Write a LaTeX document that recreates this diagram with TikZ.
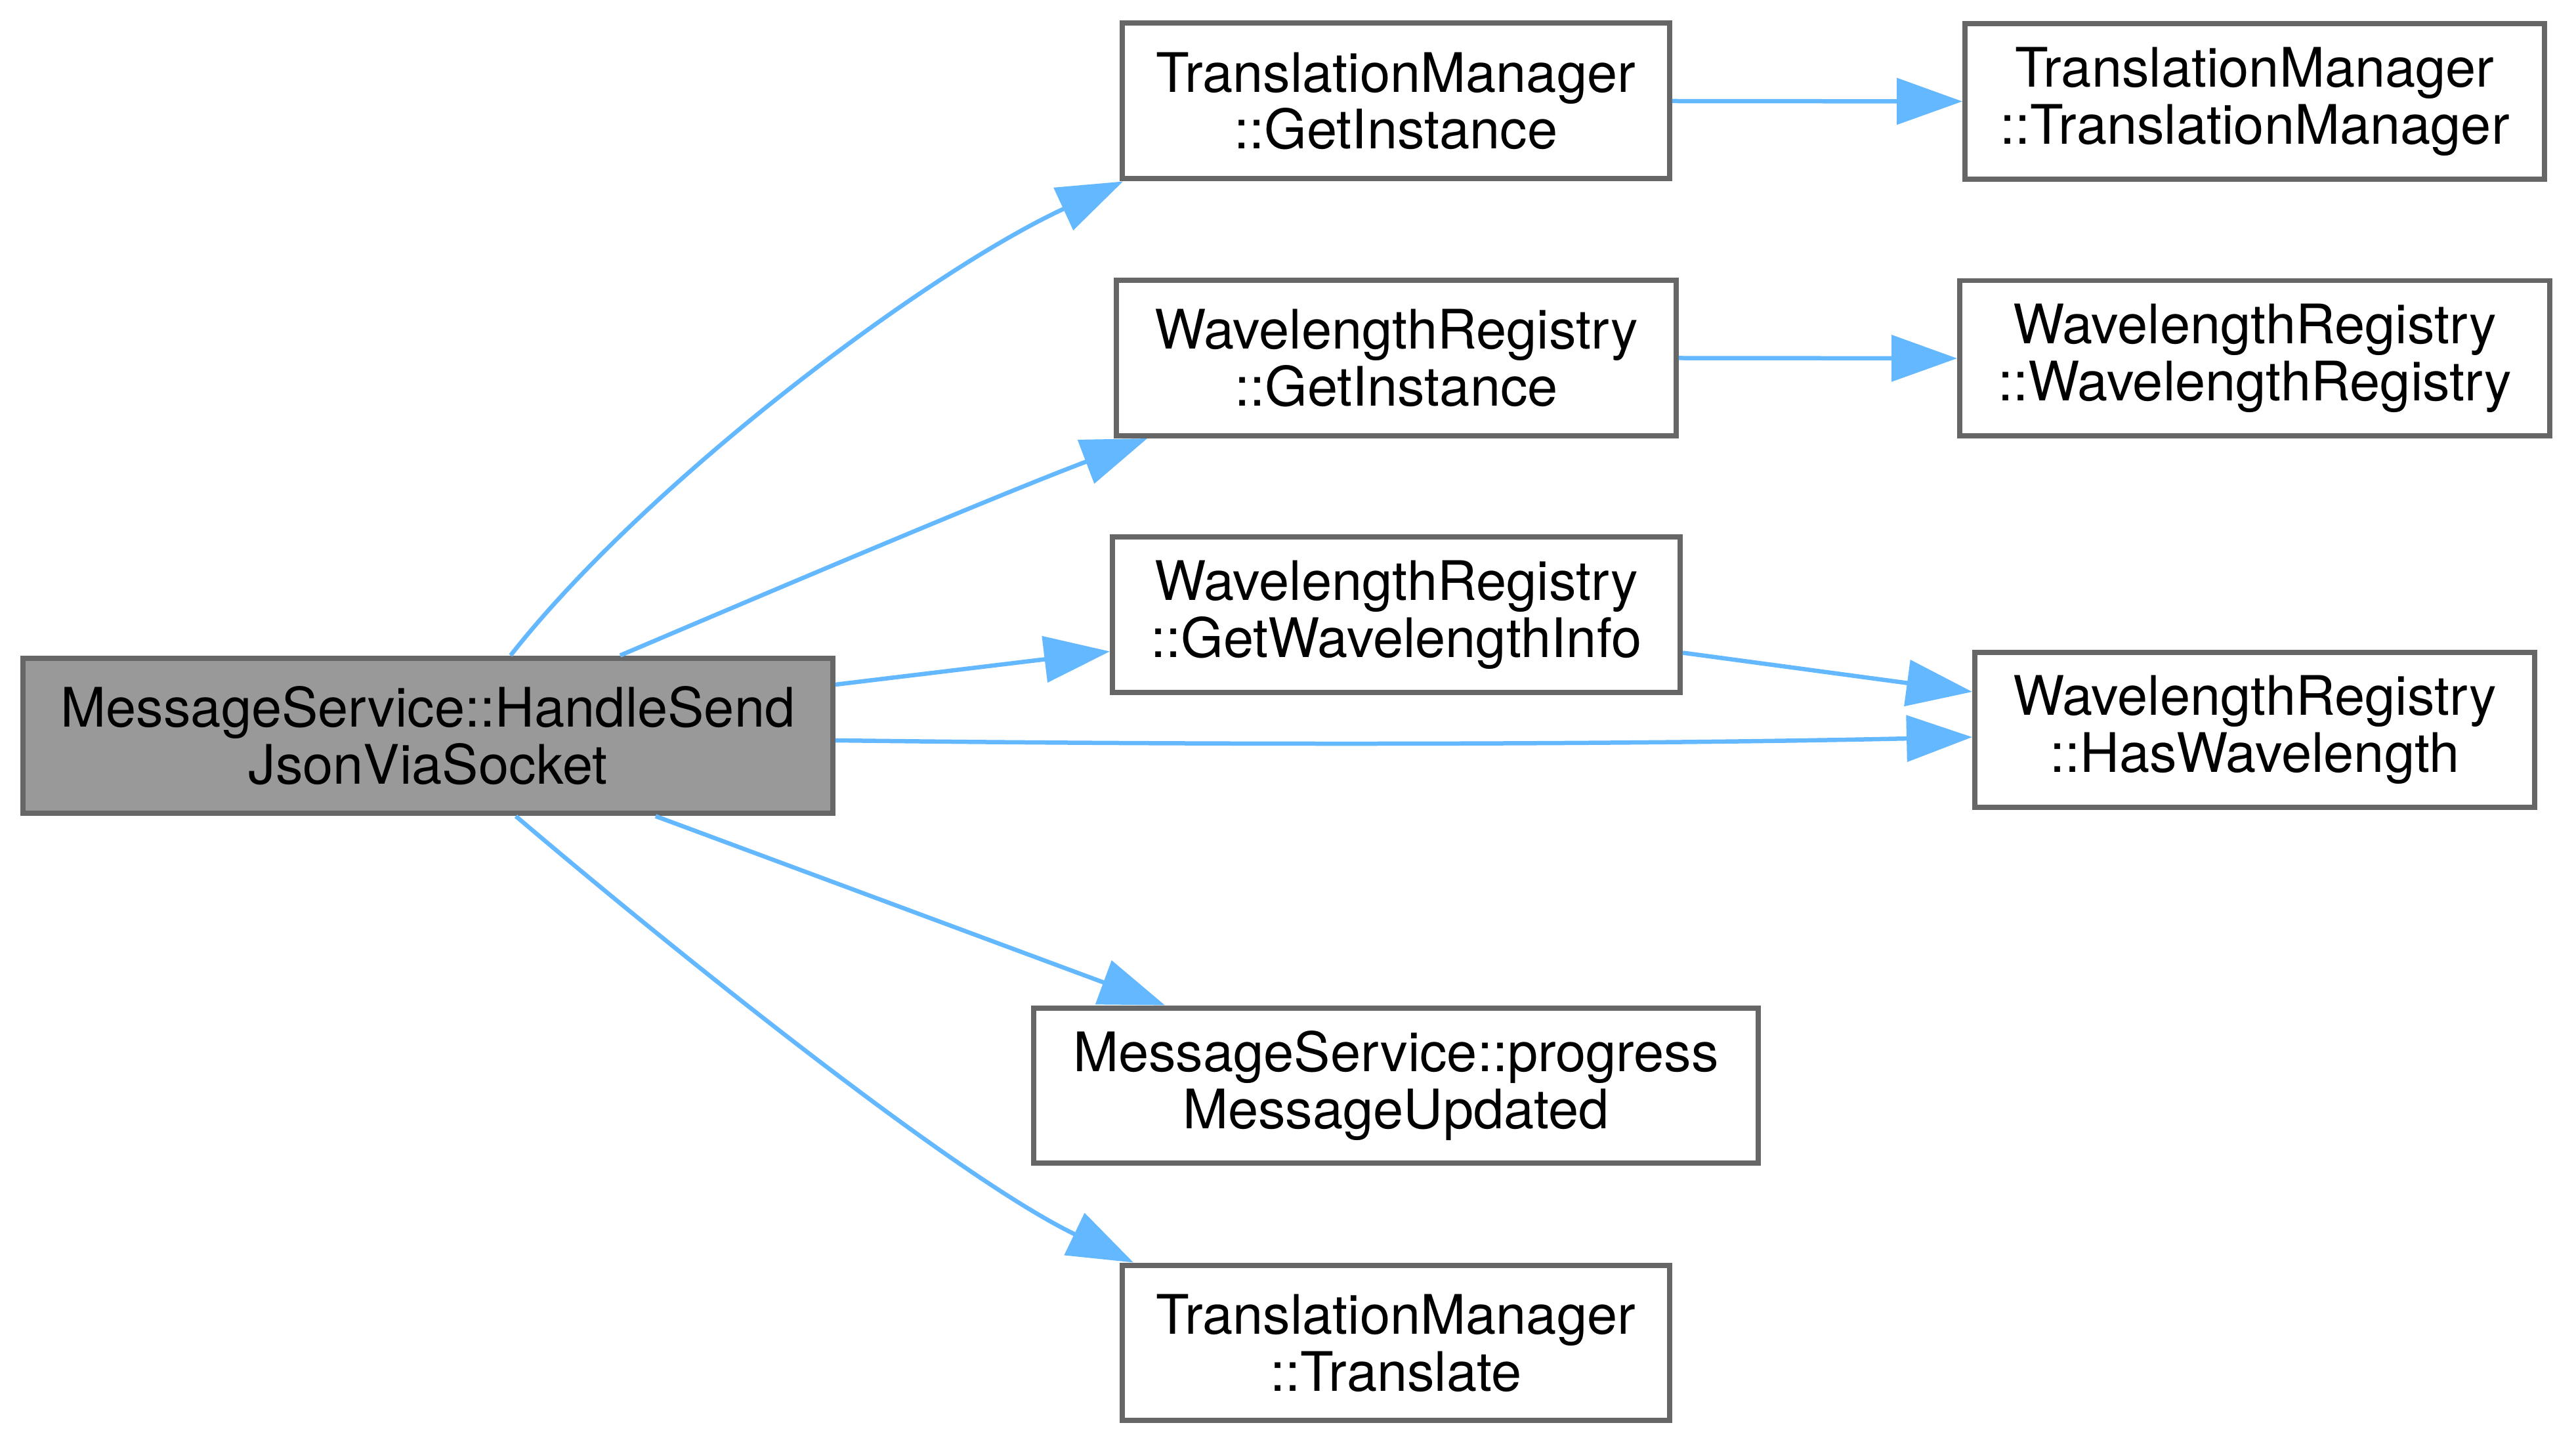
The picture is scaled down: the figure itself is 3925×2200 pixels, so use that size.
\documentclass[tikz,border=0pt]{standalone}
\usepackage{fontspec}
\setmainfont{TeX Gyre Heros}
\usetikzlibrary{arrows.meta}
\definecolor{bordergray}{HTML}{666666}
\definecolor{edgeblue}{HTML}{63B8FF}
\definecolor{mainfill}{HTML}{999999}
\begin{document}
\begin{tikzpicture}[x=0.1pt,y=-0.1pt,
  fn/.style={draw=bordergray, line width=0.8pt, fill=white, inner sep=0pt, align=center,
    font=\fontsize{8.3}{8.7}\selectfont, text=black, minimum height=23.7pt},
  call/.style={draw=edgeblue, line width=0.65pt, -{Triangle[length=10pt,width=7pt]}}]
\useasboundingbox[fill=white] (0,0) rectangle (3925,2200);

\node[fn, fill=mainfill, minimum width=123.4pt] (main) at (652,1121) {MessageService::HandleSend\\JsonViaSocket};
\node[fn, minimum width=83.4pt] (tmgi) at (2127,154) {TranslationManager\\::GetInstance};
\node[fn, minimum width=85.3pt] (wrgi) at (2127.5,545.5) {WavelengthRegistry\\::GetInstance};
\node[fn, minimum width=86.5pt] (gwi) at (2127.5,936.5) {WavelengthRegistry\\::GetWavelengthInfo};
\node[fn, minimum width=110.4pt] (prog) at (2127,1654) {MessageService::progress\\MessageUpdated};
\node[fn, minimum width=83.4pt] (tr) at (2127,2046) {TranslationManager\\::Translate};
\node[fn, minimum width=88.3pt] (tmtm) at (3435.5,154.5) {TranslationManager\\::TranslationManager};
\node[fn, minimum width=89.9pt] (wrwr) at (3435.5,546) {WavelengthRegistry\\::WavelengthRegistry};
\node[fn, minimum width=85.3pt] (haswl) at (3435.5,1112) {WavelengthRegistry\\::HasWavelength};

\draw[call] ([xshift=12.6pt]main.north) .. controls (985,735) and (1411,415) .. ([xshift=0.5pt]tmgi.south west);
\draw[call] ([xshift=29.3pt]main.north) .. controls (1130,920) and (1498,763) .. ([xshift=5.1pt]wrgi.south west);
\draw[call] ([yshift=7.8pt]main.east) -- ([yshift=-5.6pt]gwi.west);
\draw[call] ([yshift=-0.7pt]main.east) .. controls (1900,1136) and (2500,1134) .. ([yshift=-1.1pt]haswl.west);
\draw[call] ([xshift=34.7pt]main.south) -- ([xshift=20.4pt]prog.north west);
\draw[call] ([xshift=13.4pt]main.south) .. controls (1005,1430) and (1450,1790) .. ([xshift=2.1pt]tr.north west);
\draw[call] (tmgi.east) -- (tmtm.west);
\draw[call] (wrgi.east) -- (wrwr.west);
\draw[call] ([yshift=-5.8pt]gwi.east) -- ([yshift=5.8pt]haswl.west);
\end{tikzpicture}
\end{document}
